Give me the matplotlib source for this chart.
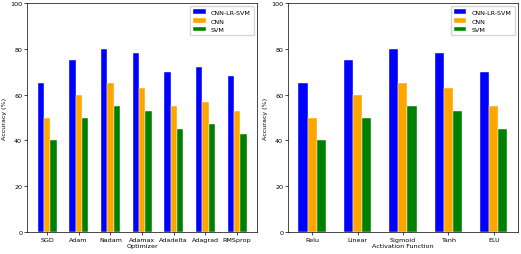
import numpy as np
import matplotlib.pyplot as plt

optimizers = ["SGD", "Adam", "Nadam", "Adamax", "Adadelta", "Adagrad", "RMSprop"]
opt_cnn_lr_svm = [65, 75, 80, 78, 70, 72, 68]
opt_cnn = [50, 60, 65, 63, 55, 57, 53]
opt_svm = [40, 50, 55, 53, 45, 47, 43]

activations = ["Relu", "Linear", "Sigmoid", "Tanh", "ELU"]
act_cnn_lr_svm = [65, 75, 80, 78, 70]
act_cnn = [50, 60, 65, 63, 55]
act_svm = [40, 50, 55, 53, 45]

fs = 4.6
fig, axes = plt.subplots(1, 2, figsize=(5.21, 2.55), dpi=100)
fig.subplots_adjust(left=0.052, right=0.994, bottom=0.086, top=0.984, wspace=0.135)

panels = [
    (axes[0], optimizers, opt_cnn_lr_svm, opt_cnn, opt_svm, "Optimizer"),
    (axes[1], activations, act_cnn_lr_svm, act_cnn, act_svm, "Activation Function"),
]
w = 0.2
for ax, cats, a, b, c, xlab in panels:
    x = np.arange(len(cats))
    ax.bar(x - w, a, w, color="blue", edgecolor="white", linewidth=0.3, label="CNN-LR-SVM")
    ax.bar(x, b, w, color="orange", edgecolor="white", linewidth=0.3, label="CNN")
    ax.bar(x + w, c, w, color="green", edgecolor="white", linewidth=0.3, label="SVM")
    ax.set_xticks(x)
    ax.set_xticklabels(cats)
    ax.set_ylim(0, 100)
    ax.set_xlabel(xlab, fontsize=fs, labelpad=1)
    ax.set_ylabel("Accuracy (%)", fontsize=fs, labelpad=2)
    ax.tick_params(labelsize=fs, length=2, width=0.5, pad=1.5)
    for s in ax.spines.values():
        s.set_linewidth(0.5)
    ax.legend(loc="upper right", fontsize=fs, framealpha=0.8, borderpad=0.5,
              handlelength=2.0, edgecolor="#cccccc")

fig.savefig("out.png", dpi=100)
